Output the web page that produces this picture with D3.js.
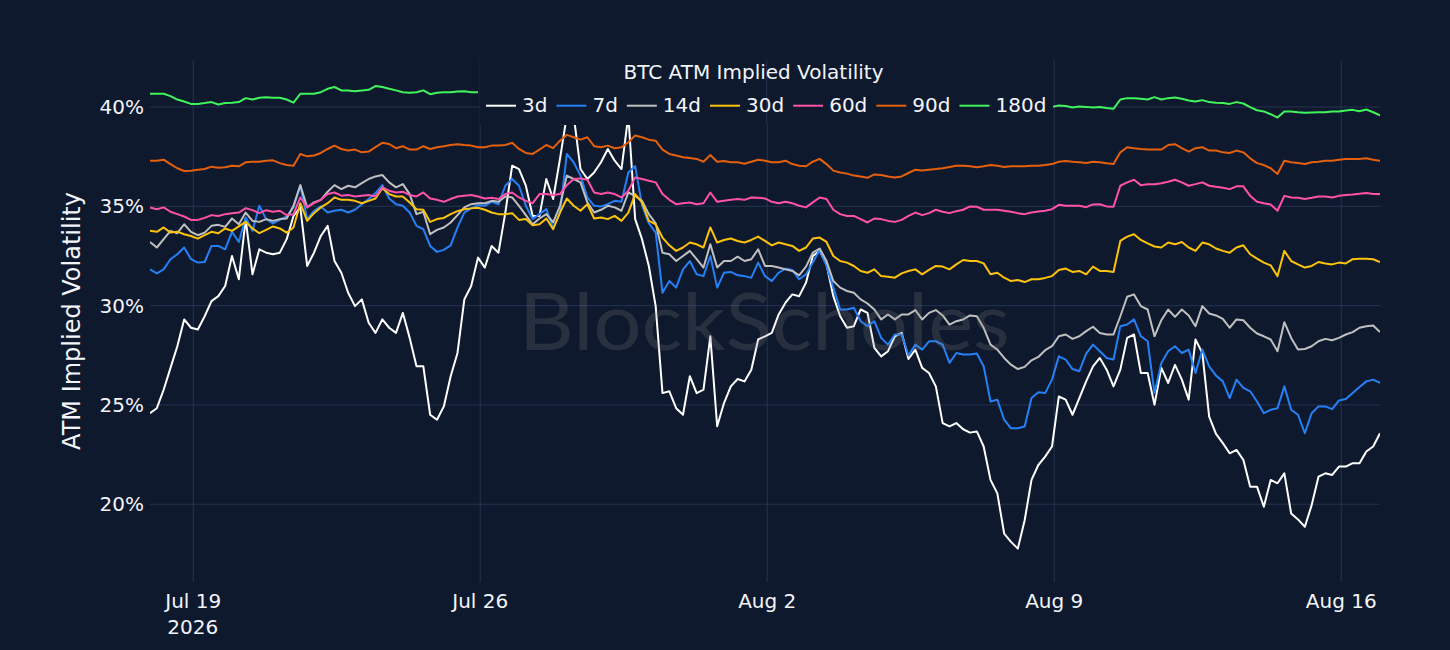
<!DOCTYPE html>
<html>
<head>
<meta charset="utf-8">
<script src="https://cdn.jsdelivr.net/npm/d3@7"></script>
<style>
    html, body { margin: 0; padding: 0; background: #0f192d; }
    svg { display: block; }
    text { font-family: "DejaVu Sans", Verdana, sans-serif; fill: #f2f5fa; }
</style>
</head>
<body>
<svg id="chart" width="1450" height="650"></svg>
<script>
(function () {
    "use strict";

    // Samples every 4 hours, first one at 2026-07-17 23:00 UTC
    const START = Date.UTC(2026, 6, 17, 23);
    const STEP_HOURS = 4;

    const seriesNames = ["3d", "7d", "14d", "30d", "60d", "90d", "180d"];
    const seriesColors = ["#ffffff", "#2680f5", "#c0c0c0", "#fcc30a", "#ff52a8", "#e5600c", "#40f45c"];

    // ATM implied vol (%)
    const vol3d = [
        24.56, 24.81, 25.74, 26.84, 27.93, 29.28, 28.86, 28.77, 29.44, 30.20, 30.45, 30.96, 32.47, 31.30, 34.33, 31.55, 32.81, 32.64, 32.56, 32.64,
        33.32, 34.49, 34.92, 31.97, 32.64, 33.48, 33.99, 32.22, 31.63, 30.62, 29.95, 30.29, 29.11, 28.60, 29.28, 28.86, 28.60,
        29.61, 28.35, 26.92, 26.92, 24.48, 24.23, 24.90, 26.42, 27.59, 30.29, 30.96, 32.39, 31.89, 32.98, 32.64, 34.66, 37.02, 36.85, 36.01, 34.49,
        34.49, 36.35, 35.34, 37.36, 39.55, 39.55, 36.85, 36.35, 36.68, 37.19, 37.86, 37.27, 36.85, 39.55, 34.33, 33.32,
        31.97, 29.95, 25.57, 25.66, 24.81, 24.48, 26.42, 25.57, 25.74, 28.43, 23.90, 25.07, 25.91, 26.28, 26.16, 26.75, 28.27, 28.43, 28.60, 29.53,
        30.12, 30.54, 30.45, 31.13, 32.47, 32.73, 32.05, 30.45, 29.44, 28.86, 28.94, 29.78, 29.61, 27.85, 27.42, 27.68,
        28.43, 28.60, 27.29, 27.76, 26.84, 26.58, 25.91, 24.06, 23.89, 24.06, 23.75, 23.58, 23.64, 22.88, 21.20, 20.52, 18.50, 18.08, 17.74, 19.17,
        21.20, 21.95, 22.37, 22.88, 25.40, 25.24, 24.48, 25.32, 26.16, 26.92, 27.34, 26.75, 25.91, 26.75, 28.35, 28.52,
        26.58, 26.58, 24.98, 26.84, 26.08, 26.99, 26.25, 25.24, 28.27, 27.59, 24.39, 23.52, 23.05, 22.54, 22.71, 22.21, 20.86, 20.86, 19.85, 21.20,
        21.03, 21.53, 19.51, 19.21, 18.84, 19.93, 21.36, 21.53, 21.45, 21.87, 21.87, 22.04, 22.04, 22.63, 22.88, 23.55
    ];
    const vol7d = [
        31.80, 31.60, 31.80, 32.31, 32.56, 32.90, 32.31, 32.14, 32.17, 32.98, 32.98, 32.81, 33.69, 33.18, 34.41, 33.74, 35.00, 34.33, 34.12, 34.29,
        34.46, 34.92, 36.01, 34.33, 34.75, 34.97, 34.66, 34.75, 34.80, 34.66, 34.80, 35.08, 35.34, 35.64, 36.04, 35.37, 35.08,
        35.00, 34.66, 33.99, 33.82, 32.98, 32.68, 32.78, 33.01, 33.91, 34.66, 34.87, 35.03, 35.00, 35.20, 35.08, 36.01, 36.35, 36.01, 35.00, 34.33,
        34.58, 34.83, 33.86, 34.66, 37.61, 37.19, 36.52, 35.42, 35.00, 34.97, 35.08, 35.25, 35.20, 36.68, 37.00, 35.03,
        34.12, 33.65, 30.62, 31.21, 30.88, 31.80, 32.22, 31.55, 31.46, 32.47, 30.88, 31.63, 31.67, 31.50, 31.46, 31.38, 32.14, 31.46, 31.21, 31.63,
        31.84, 31.77, 31.30, 31.55, 32.14, 32.78, 31.97, 30.88, 29.78, 29.78, 29.87, 29.19, 28.94, 29.19, 28.35, 28.01,
        28.52, 28.52, 27.46, 28.01, 27.76, 28.18, 28.18, 28.01, 27.09, 27.59, 27.51, 27.51, 27.56, 26.92, 25.15, 25.24, 24.23, 23.80, 23.80, 23.89,
        25.32, 25.61, 25.57, 26.25, 27.42, 27.26, 26.78, 26.67, 27.56, 28.01, 27.68, 27.34, 27.26, 28.94, 29.02, 29.28,
        28.43, 28.18, 25.57, 27.09, 27.68, 27.93, 27.59, 27.76, 26.58, 27.76, 26.92, 26.45, 26.16, 25.32, 26.25, 25.83, 25.66, 25.15, 24.56, 24.73,
        24.81, 25.91, 24.73, 24.48, 23.55, 24.56, 24.90, 24.90, 24.76, 25.20, 25.27, 25.57, 25.88, 26.16, 26.25, 26.08
    ];
    const vol14d = [
        33.18, 32.90, 33.32, 33.74, 33.62, 34.07, 33.69, 33.52, 33.65, 33.99, 34.04, 33.94, 34.36, 34.07, 34.66, 34.24, 34.19, 34.33, 34.24, 34.33,
        34.36, 35.00, 36.04, 34.92, 35.17, 35.30, 35.71, 36.04, 35.84, 36.01, 35.93, 36.14, 36.35, 36.48, 36.55, 36.18, 35.93,
        36.09, 35.59, 34.58, 34.70, 33.57, 33.79, 33.91, 34.16, 34.53, 34.92, 35.08, 35.13, 35.13, 35.25, 35.20, 35.47, 35.42, 35.00, 34.53, 34.07,
        34.36, 34.58, 34.16, 35.00, 36.52, 36.35, 36.18, 35.17, 34.66, 34.80, 35.00, 34.92, 34.75, 35.67, 35.50, 35.25,
        34.58, 34.12, 32.64, 32.56, 32.22, 32.47, 32.73, 32.31, 31.89, 33.06, 31.89, 32.22, 32.22, 32.44, 32.22, 32.31, 32.81, 31.97, 31.97, 31.89,
        31.80, 31.72, 31.50, 31.94, 32.64, 32.85, 32.22, 31.21, 30.88, 30.71, 30.62, 30.29, 30.08, 29.78, 29.28, 29.53,
        29.28, 29.53, 29.53, 29.75, 29.28, 29.61, 29.75, 29.48, 29.02, 29.19, 29.28, 29.48, 29.44, 28.86, 28.01, 27.76, 27.34, 27.00, 26.78, 26.89,
        27.22, 27.39, 27.73, 27.93, 28.43, 28.52, 28.30, 28.43, 28.69, 28.91, 28.60, 28.52, 28.52, 29.44, 30.42, 30.54,
        29.95, 29.78, 28.43, 29.24, 29.78, 29.41, 29.78, 29.48, 28.94, 29.95, 29.58, 29.48, 29.31, 28.86, 29.28, 29.24, 28.86, 28.57, 28.43, 28.27,
        27.68, 29.14, 28.35, 27.76, 27.79, 27.93, 28.18, 28.30, 28.23, 28.35, 28.52, 28.64, 28.86, 28.94, 28.97, 28.64
    ];
    const vol30d = [
        33.74, 33.69, 33.91, 33.65, 33.70, 33.57, 33.48, 33.35, 33.52, 33.69, 33.62, 33.86, 33.74, 33.96, 34.19, 33.86, 33.62, 33.79, 33.96, 33.86,
        33.65, 33.91, 35.13, 34.24, 34.63, 34.92, 35.13, 35.42, 35.30, 35.30, 35.25, 35.13, 35.25, 35.37, 35.88, 35.59, 35.47,
        35.47, 35.17, 34.83, 34.80, 34.19, 34.33, 34.39, 34.58, 34.73, 34.83, 34.87, 34.90, 34.80, 34.66, 34.58, 34.58, 34.63, 34.29, 34.33, 34.02,
        34.07, 34.36, 33.82, 34.66, 35.37, 35.00, 34.75, 35.08, 34.36, 34.41, 34.33, 34.49, 34.24, 34.66, 35.59, 35.17,
        34.24, 34.07, 33.40, 33.01, 32.73, 32.90, 33.15, 33.06, 32.90, 33.91, 33.15, 33.28, 33.35, 33.23, 33.15, 33.28, 33.45, 33.23, 33.01, 33.15,
        33.06, 32.98, 32.73, 32.90, 33.35, 33.40, 33.18, 32.47, 32.22, 32.14, 31.97, 31.72, 31.63, 31.80, 31.46, 31.43,
        31.38, 31.60, 31.72, 31.80, 31.55, 31.77, 31.97, 31.94, 31.80, 32.05, 32.27, 32.22, 32.22, 32.10, 31.55, 31.63, 31.38, 31.21, 31.26, 31.16,
        31.30, 31.30, 31.37, 31.46, 31.77, 31.84, 31.67, 31.72, 31.55, 31.94, 31.72, 31.72, 31.67, 33.23, 33.45, 33.57,
        33.28, 33.11, 32.95, 32.90, 33.15, 33.06, 33.18, 32.90, 32.73, 33.15, 33.06, 32.85, 32.73, 32.64, 32.90, 33.01, 32.56, 32.34, 32.14, 32.00,
        31.46, 32.73, 32.22, 32.05, 31.89, 31.97, 32.17, 32.10, 32.05, 32.14, 32.10, 32.31, 32.34, 32.34, 32.31, 32.17
    ];
    const vol60d = [
        34.92, 34.83, 34.92, 34.70, 34.58, 34.46, 34.29, 34.29, 34.39, 34.53, 34.49, 34.58, 34.63, 34.66, 34.88, 34.78, 34.63, 34.78, 34.70, 34.75,
        34.53, 34.58, 35.42, 34.92, 35.13, 35.30, 35.59, 35.67, 35.51, 35.54, 35.47, 35.51, 35.54, 35.47, 35.93, 35.76, 35.67,
        35.71, 35.54, 35.47, 35.67, 35.37, 35.30, 35.20, 35.34, 35.47, 35.51, 35.54, 35.47, 35.37, 35.40, 35.34, 35.59, 35.67, 35.42, 35.25, 35.13,
        35.59, 35.59, 35.54, 35.59, 36.04, 36.35, 36.38, 36.31, 35.67, 35.59, 35.67, 35.59, 35.42, 35.76, 36.43, 36.35,
        36.26, 36.18, 35.59, 35.30, 35.08, 35.13, 35.17, 35.08, 35.13, 35.67, 35.20, 35.25, 35.30, 35.34, 35.30, 35.42, 35.40, 35.37, 35.20, 35.13,
        35.20, 35.13, 35.00, 34.92, 35.17, 35.42, 35.34, 34.80, 34.58, 34.49, 34.49, 34.33, 34.16, 34.36, 34.33, 34.24,
        34.19, 34.29, 34.49, 34.66, 34.53, 34.63, 34.80, 34.70, 34.63, 34.73, 34.80, 34.97, 34.95, 34.80, 34.80, 34.80, 34.75, 34.70, 34.63, 34.58,
        34.66, 34.71, 34.75, 34.83, 35.05, 35.00, 35.00, 35.00, 34.93, 35.07, 35.08, 34.97, 34.95, 36.01, 36.18, 36.31,
        36.04, 36.09, 36.09, 36.14, 36.21, 36.31, 36.18, 36.01, 36.09, 36.18, 36.01, 35.96, 35.91, 35.84, 35.98, 35.98, 35.50, 35.20, 35.13, 35.07,
        34.75, 35.50, 35.42, 35.40, 35.34, 35.40, 35.47, 35.47, 35.42, 35.50, 35.54, 35.57, 35.61, 35.64, 35.59, 35.59
    ];
    const vol90d = [
        37.27, 37.27, 37.32, 37.10, 36.89, 36.75, 36.77, 36.82, 36.85, 36.97, 36.92, 36.94, 37.02, 36.99, 37.19, 37.22, 37.22, 37.27, 37.29, 37.15,
        37.05, 37.02, 37.61, 37.49, 37.53, 37.66, 37.86, 38.03, 37.86, 37.78, 37.83, 37.69, 37.73, 37.95, 38.17, 38.11, 37.90,
        38.00, 37.83, 37.83, 38.00, 37.86, 37.95, 38.00, 38.06, 38.10, 38.06, 38.03, 37.95, 37.95, 38.03, 38.03, 38.06, 38.17, 37.86, 37.66, 37.61,
        37.83, 38.06, 37.90, 38.28, 38.57, 38.45, 38.33, 38.45, 38.00, 37.95, 38.03, 37.90, 37.95, 38.20, 38.54, 38.45,
        38.33, 38.28, 37.83, 37.61, 37.53, 37.44, 37.41, 37.36, 37.22, 37.56, 37.22, 37.26, 37.19, 37.19, 37.12, 37.22, 37.32, 37.27, 37.19, 37.19,
        37.27, 37.10, 37.02, 36.99, 37.22, 37.36, 37.10, 36.77, 36.68, 36.62, 36.52, 36.48, 36.41, 36.58, 36.55, 36.48,
        36.43, 36.48, 36.65, 36.82, 36.78, 36.82, 36.85, 36.89, 36.95, 37.02, 37.02, 36.99, 36.94, 36.99, 37.05, 37.02, 36.95, 36.99, 36.99, 36.99,
        37.02, 37.02, 37.05, 37.10, 37.22, 37.26, 37.22, 37.19, 37.15, 37.22, 37.19, 37.14, 37.10, 37.69, 37.95, 37.90,
        37.86, 37.83, 37.83, 37.83, 38.06, 38.10, 37.90, 37.73, 37.90, 37.95, 37.78, 37.78, 37.69, 37.66, 37.78, 37.69, 37.39, 37.15, 37.05, 36.89,
        36.60, 37.27, 37.19, 37.15, 37.10, 37.19, 37.22, 37.27, 37.27, 37.32, 37.36, 37.36, 37.36, 37.39, 37.32, 37.27
    ];
    // 180d is hidden behind the legend between Jul 26 and Aug 9: two visible stretches
    const vol180dEarly = [
        40.64, 40.64, 40.64, 40.52, 40.35, 40.25, 40.13, 40.13, 40.17, 40.22, 40.10, 40.17, 40.19, 40.22, 40.42, 40.35, 40.44, 40.47, 40.44, 40.44,
        40.35, 40.19, 40.64, 40.64, 40.64, 40.72, 40.89, 40.98, 40.81, 40.81, 40.77, 40.81, 40.84, 41.03, 40.98, 40.89, 40.81,
        40.72, 40.69, 40.72, 40.81, 40.62, 40.69, 40.72, 40.72, 40.76, 40.77, 40.72, 40.72
    ];
    const vol180dLateStart = 132; // sample index where the second stretch begins
    const vol180dLate = [
        39.98, 40.05, 40.02, 39.95, 40.00, 39.98, 39.95, 39.97, 39.92, 39.88, 40.35, 40.42, 40.42,
        40.39, 40.35, 40.47, 40.35, 40.42, 40.45, 40.39, 40.30, 40.25, 40.32, 40.22, 40.19, 40.17, 40.13, 40.22, 40.15, 39.97, 39.81, 39.75, 39.61,
        39.44, 39.75, 39.75, 39.71, 39.68, 39.70, 39.71, 39.71, 39.75, 39.75, 39.80, 39.83, 39.76, 39.85, 39.71, 39.55
    ];

    const yTickValues = [20, 25, 30, 35, 40];
    const xTickDays = ["2026-07-19", "2026-07-26", "2026-08-02", "2026-08-09", "2026-08-16"];

    const times = vol3d.map((_, i) => new Date(START + i * STEP_HOURS * 3600e3));

    const vol180d = times.map((_, i) => {
        if (i < vol180dEarly.length) return vol180dEarly[i];
        const j = i - vol180dLateStart;
        return j >= 0 && j < vol180dLate.length ? vol180dLate[j] : null;
    });

    const allSeries = [vol3d, vol7d, vol14d, vol30d, vol60d, vol90d, vol180d];

    // plot box
    const left = 150, right = 1380, top = 60, bottom = 582;

    const svg = d3.select("#chart");
    svg.append("rect").attr("width", 1450).attr("height", 650).attr("fill", "#0f192d");

    const x = d3.scaleUtc()
        .domain([times[0], times[times.length - 1]])
        .range([left, right]);
    const y = d3.scaleLinear()
        .domain([16.06, 42.34])
        .range([bottom, top]);

    const gridColor = "#243352";
    const xTicks = xTickDays.map((s) => new Date(s + "T00:00:00Z"));

    // grid
    svg.append("g")
        .attr("transform", `translate(${left},0)`)
        .call(d3.axisLeft(y).tickValues(yTickValues).tickSize(-(right - left)).tickFormat(""))
        .call((g) => g.select(".domain").remove())
        .selectAll("line").attr("stroke", gridColor).attr("stroke-width", 1);
    svg.append("g")
        .attr("transform", `translate(0,${bottom})`)
        .call(d3.axisBottom(x).tickValues(xTicks).tickSize(-(bottom - top)).tickFormat(""))
        .call((g) => g.select(".domain").remove())
        .selectAll("line").attr("stroke", gridColor).attr("stroke-width", 1);

    // lines
    svg.append("clipPath").attr("id", "plot-clip")
        .append("rect").attr("x", left).attr("y", top)
        .attr("width", right - left).attr("height", bottom - top);

    const line = d3.line()
        .defined((d) => d != null)
        .x((d, i) => x(times[i]))
        .y((d) => y(d));

    const linesG = svg.append("g").attr("clip-path", "url(#plot-clip)");
    allSeries.forEach((vals, k) => {
        linesG.append("path")
            .attr("d", line(vals))
            .attr("fill", "none")
            .attr("stroke", seriesColors[k])
            .attr("stroke-width", 2)
            .attr("stroke-linejoin", "round");
    });

    // watermark sits above the traces
    svg.append("text")
        .attr("x", 519).attr("y", 350)
        .attr("textLength", 491).attr("lengthAdjust", "spacingAndGlyphs")
        .style("font-family", "Lato, 'Open Sans', sans-serif")
        .style("font-size", "80px")
        .style("fill", "#808080")
        .style("opacity", 0.22)
        .text("BlockScholes");

    // axis labels
    const yAxis = svg.append("g")
        .attr("transform", `translate(${left},0)`)
        .call(d3.axisLeft(y).tickValues(yTickValues).tickSize(0).tickPadding(6).tickFormat((d) => d + "%"));
    yAxis.select(".domain").remove();
    yAxis.selectAll("text").style("font-size", "20px").attr("dy", "0.35em")
        .style("font-family", "'DejaVu Sans', Verdana, sans-serif").attr("fill", "#f2f5fa");

    const xAxis = svg.append("g")
        .attr("transform", `translate(0,${bottom})`)
        .call(d3.axisBottom(x).tickValues(xTicks).tickSize(0).tickPadding(0).tickFormat(d3.utcFormat("%b %-d")));
    xAxis.select(".domain").remove();
    xAxis.selectAll("text").style("font-size", "20px").attr("y", 26).attr("dy", 0)
        .style("font-family", "'DejaVu Sans', Verdana, sans-serif").attr("fill", "#f2f5fa");
    svg.append("text")
        .attr("x", x(xTicks[0])).attr("y", 634)
        .attr("text-anchor", "middle")
        .style("font-size", "20px")
        .text("2026");

    svg.append("text")
        .attr("transform", `translate(80,${(top + bottom) / 2}) rotate(-90)`)
        .attr("text-anchor", "middle")
        .style("font-size", "24px")
        .text("ATM Implied Volatility");

    // legend: opaque box that hides the traces behind it
    const legend = svg.append("g");
    legend.append("rect")
        .attr("x", 480).attr("y", top)
        .attr("width", 573).attr("height", 125 - top)
        .attr("fill", "#0f192d");
    xTicks.forEach((d) => {
        const px = x(d);
        if (px >= 480 && px <= 1053) {
            legend.append("line")
                .attr("x1", px).attr("x2", px).attr("y1", top).attr("y2", 125)
                .attr("stroke", gridColor);
        }
    });

    legend.append("text")
        .attr("x", 753.5).attr("y", 79)
        .attr("text-anchor", "middle")
        .style("font-size", "20px")
        .text("BTC ATM Implied Volatility");

    let lx = 486;
    seriesNames.forEach((name, k) => {
        legend.append("line")
            .attr("x1", lx).attr("x2", lx + 30)
            .attr("y1", 105.7).attr("y2", 105.7)
            .attr("stroke", seriesColors[k]).attr("stroke-width", 2);
        const t = legend.append("text")
            .attr("x", lx + 36).attr("y", 112.3)
            .style("font-size", "20px")
            .text(name);
        lx += 36 + t.node().getComputedTextLength() + 9;
    });
})();
</script>
</body>
</html>
